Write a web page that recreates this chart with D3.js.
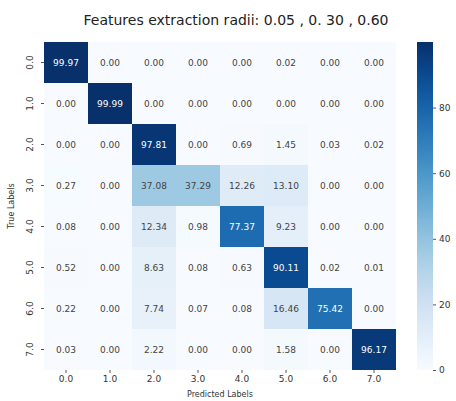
<!DOCTYPE html>
<html>
<head>
<meta charset="utf-8">
<script src="https://cdn.jsdelivr.net/npm/d3@7"></script>
<style>
  body { margin: 0; background: #fff; }
  text { font-family: "DejaVu Sans", sans-serif; }
</style>
</head>
<body>
<div id="chart-area"></div>
<script>
var labels = ["0.0", "1.0", "2.0", "3.0", "4.0", "5.0", "6.0", "7.0"];

var row0 = [99.97, 0.00, 0.00, 0.00, 0.00, 0.02, 0.00, 0.00];
var row1 = [0.00, 99.99, 0.00, 0.00, 0.00, 0.00, 0.00, 0.00];
var row2 = [0.00, 0.00, 97.81, 0.00, 0.69, 1.45, 0.03, 0.02];
var row3 = [0.27, 0.00, 37.08, 37.29, 12.26, 13.10, 0.00, 0.00];
var row4 = [0.08, 0.00, 12.34, 0.98, 77.37, 9.23, 0.00, 0.00];
var row5 = [0.52, 0.00, 8.63, 0.08, 0.63, 90.11, 0.02, 0.01];
var row6 = [0.22, 0.00, 7.74, 0.07, 0.08, 16.46, 75.42, 0.00];
var row7 = [0.03, 0.00, 2.22, 0.00, 0.00, 1.58, 0.00, 96.17];

var colorTicks = [0, 20, 40, 60, 80];

var rows = [row0, row1, row2, row3, row4, row5, row6, row7];

var margin = { left: 44, top: 42 };
var width = 352, height = 328;

var svg = d3.select("#chart-area")
    .append('svg')
    .attr('width', 456)
    .attr('height', 401);

var g = svg.append('g')
    .attr("transform", "translate(" + margin.left + ", " + margin.top + ")");

var cells = [];
rows.forEach(function(r, i) {
    r.forEach(function(v, j) {
        cells.push({ row: labels[i], col: labels[j], value: v });
    });
});

var vmax = d3.max(cells, function(d) { return d.value; });
var vmin = d3.min(cells, function(d) { return d.value; });

var xScale = d3.scaleBand().domain(labels).range([0, width]);
var yScale = d3.scaleBand().domain(labels).range([0, height]);
var color = d3.scaleSequential(d3.interpolateBlues).domain([vmin, vmax]);

g.selectAll('rect.cell')
    .data(cells)
    .enter()
    .append('rect')
    .attr('class', 'cell')
    .attr('x', function(d) { return xScale(d.col); })
    .attr('y', function(d) { return yScale(d.row); })
    .attr('width', xScale.bandwidth())
    .attr('height', yScale.bandwidth())
    .attr('fill', function(d) { return color(d.value); });

g.selectAll('text.val')
    .data(cells)
    .enter()
    .append('text')
    .attr('class', 'val')
    .attr('x', function(d) { return xScale(d.col) + xScale.bandwidth() / 2; })
    .attr('y', function(d) { return yScale(d.row) + yScale.bandwidth() / 2; })
    .attr('dy', '0.35em')
    .attr('text-anchor', 'middle')
    .attr('font-size', '9px')
    .attr('fill', function(d) { return d.value > 60 ? '#ffffff' : '#444444'; })
    .text(function(d) { return d.value.toFixed(2); });

// axes
var xAxis = g.append('g')
    .attr("transform", "translate(0, " + height + ")")
    .call(d3.axisBottom(xScale).tickSize(3).tickPadding(3));
xAxis.select('.domain').remove();
xAxis.selectAll('text').attr('font-size', '9px').attr('fill', '#333');
xAxis.selectAll('line').attr('stroke', '#555');

var yAxis = g.append('g')
    .call(d3.axisLeft(yScale).tickSize(3).tickPadding(3));
yAxis.select('.domain').remove();
yAxis.selectAll('line').attr('stroke', '#555');
yAxis.selectAll('text')
    .attr('font-size', '9px')
    .attr('fill', '#333')
    .attr('text-anchor', 'middle')
    .attr('x', 0)
    .attr('dy', 0)
    .attr('transform', 'translate(-11, 0) rotate(-90)');

g.append('text')
    .text('Predicted Labels')
    .attr('x', width / 2)
    .attr('y', height + 27)
    .attr('text-anchor', 'middle')
    .attr('font-size', '8px')
    .attr('fill', '#333');

g.append('text')
    .text('True Labels')
    .attr('x', -height / 2)
    .attr('y', -30)
    .attr('text-anchor', 'middle')
    .attr('font-size', '8px')
    .attr('fill', '#333')
    .attr('transform', 'rotate(-90)');

svg.append('text')
    .text('Features extraction radii: 0.05 , 0. 30 , 0.60')
    .attr('x', 236)
    .attr('y', 25)
    .attr('text-anchor', 'middle')
    .attr('font-family', '"Open Sans", sans-serif')
    .attr('font-size', '14px')
    .attr('fill', '#222');

// colorbar
var cbX = 417, cbW = 16;
var cbScale = d3.scaleLinear().domain([vmin, vmax]).range([margin.top + height, margin.top]);

var defs = svg.append('defs');
var grad = defs.append('linearGradient')
    .attr('id', 'cbgrad')
    .attr('x1', 0).attr('y1', 1).attr('x2', 0).attr('y2', 0);
d3.range(0, 1.01, 0.1).forEach(function(t) {
    grad.append('stop')
        .attr('offset', t)
        .attr('stop-color', d3.interpolateBlues(t));
});

svg.append('rect')
    .attr('x', cbX)
    .attr('y', cbScale(vmax))
    .attr('width', cbW)
    .attr('height', cbScale(vmin) - cbScale(vmax))
    .attr('fill', 'url(#cbgrad)');

var cbAxis = svg.append('g')
    .attr("transform", "translate(" + (cbX + cbW) + ", 0)")
    .call(d3.axisRight(cbScale).tickValues(colorTicks).tickSize(3).tickPadding(3));
cbAxis.select('.domain').remove();
cbAxis.selectAll('text').attr('font-size', '9px').attr('fill', '#333');
cbAxis.selectAll('line').attr('stroke', '#555');
</script>
</body>
</html>
